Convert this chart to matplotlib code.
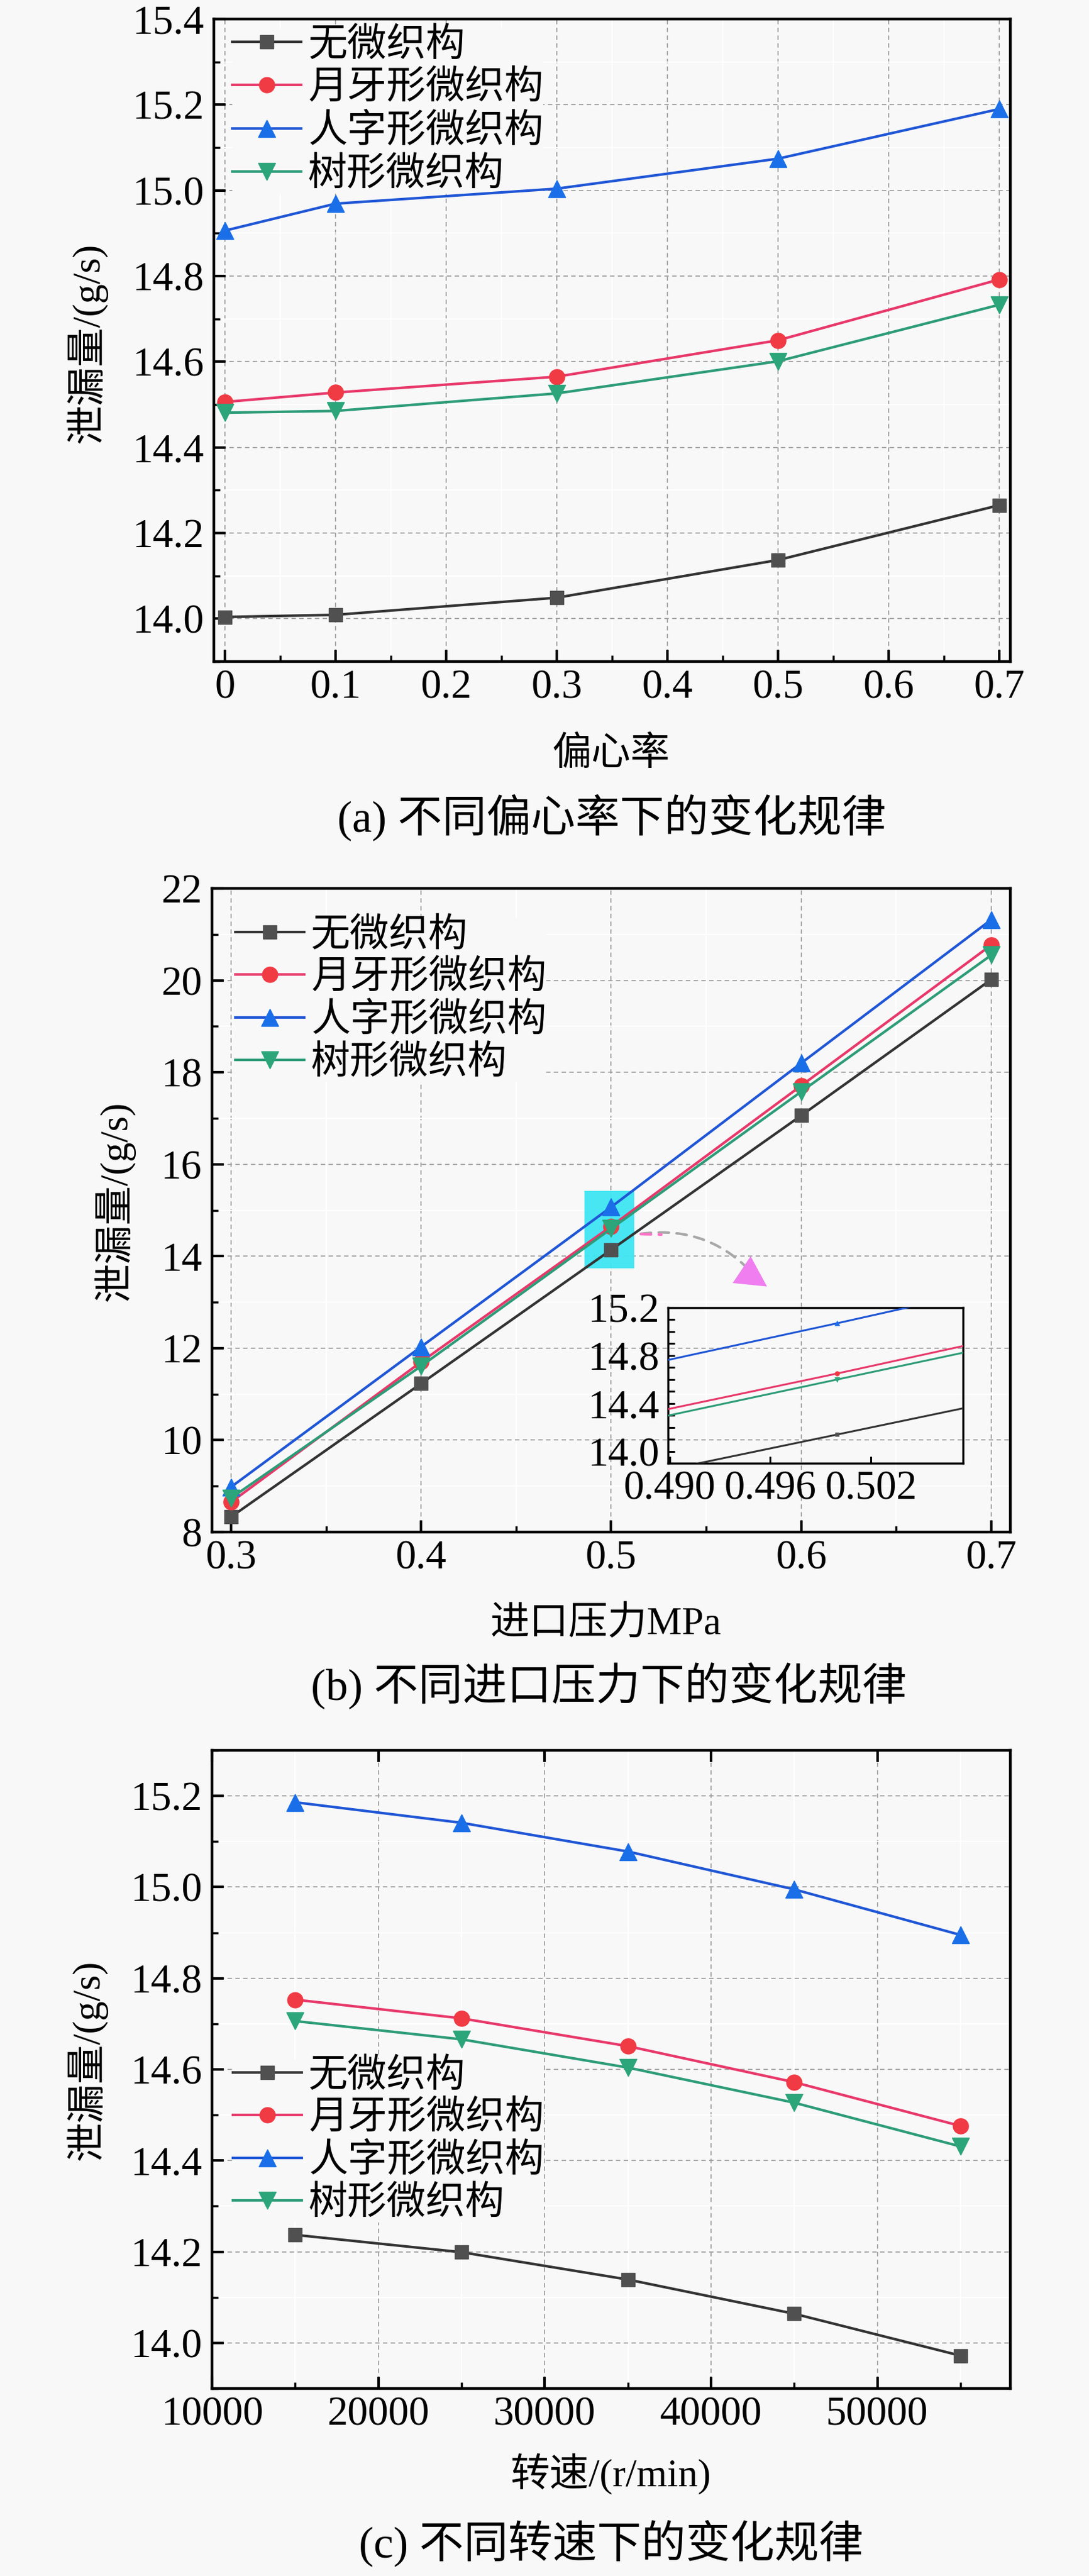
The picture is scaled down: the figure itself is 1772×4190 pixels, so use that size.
import matplotlib
matplotlib.use('Agg')
import matplotlib.pyplot as plt
from matplotlib.patches import Rectangle, FancyArrowPatch
from matplotlib.ticker import MultipleLocator, FixedLocator, FormatStrFormatter, FuncFormatter

plt.rcParams['font.family'] = 'serif'
plt.rcParams['font.serif'] = ['Liberation Serif', 'DejaVu Serif']
CJK = ['Liberation Serif', 'Noto Sans CJK SC']

# ---------------- data ----------------
series_names = ['无微织构', '月牙形微织构', '人字形微织构', '树形微织构']

ecc = [0, 0.1, 0.3, 0.5, 0.7]
ecc_none = [14.004, 14.009, 14.049, 14.137, 14.265]
ecc_crescent = [14.506, 14.528, 14.565, 14.650, 14.792]
ecc_chevron = [14.906, 14.969, 15.004, 15.074, 15.190]
ecc_tree = [14.481, 14.485, 14.526, 14.601, 14.733]

pressure = [0.3, 0.4, 0.5, 0.6, 0.7]
p_none = [8.33, 11.23, 14.14, 17.06, 20.02]
p_crescent = [8.65, 11.70, 14.65, 17.71, 20.77]
p_chevron = [8.98, 12.03, 15.07, 18.20, 21.32]
p_tree = [8.74, 11.61, 14.60, 17.58, 20.55]

speed = [15000, 25000, 35000, 45000, 55000]
s_none = [14.237, 14.199, 14.139, 14.064, 13.972]
s_crescent = [14.753, 14.712, 14.651, 14.572, 14.476]
s_chevron = [15.186, 15.141, 15.078, 14.995, 14.895]
s_tree = [14.706, 14.666, 14.604, 14.527, 14.431]

zoom_x = [0.486, 0.512]
zoom_y = [13.74, 15.42]

captions = ['(a) 不同偏心率下的变化规律', '(b) 不同进口压力下的变化规律', '(c) 不同转速下的变化规律']
xlabels = ['偏心率', '进口压力MPa', '转速/(r/min)']
ylabel = '泄漏量/(g/s)'

# ---------------- style ----------------
W, H = 1772, 4190
DPI = 100
BG = '#f8f8f8'
line_colors = ['#333333', '#e8386a', '#1f56d6', '#2d9c78']
face_colors = ['#505050', '#f03a44', '#1a6fe8', '#2ca57a']
markers = ['s', 'o', '^', 'v']
msizes = [16, 18, 20, 20]
TICK_FS = 48
LEG_FS = 46
LAB_FS = 46
CAP_FS = 52

fig = plt.figure(figsize=(W / DPI, H / DPI), dpi=DPI, facecolor=BG)


def rect(l, t, r, b):
    return [l / W, 1 - b / H, (r - l) / W, (b - t) / H]


def style_axes(ax):
    ax.set_facecolor(BG)
    for s in ax.spines.values():
        s.set_linewidth(3.2)
        s.set_color('black')
    ax.tick_params(which='major', direction='in', length=14, width=3, labelsize=TICK_FS, pad=9)
    ax.tick_params(which='minor', direction='in', length=7, width=2.5)
    ax.tick_params(axis='y', which='major', pad=12)
    ax.tick_params(top=False, right=False, which='both')
    ax.grid(True, which='major', linestyle=(0, (4, 3)), color='#a0a0a0', linewidth=1.3)
    ax.grid(True, which='minor', linestyle='-', color='white', linewidth=1.5)
    ax.set_axisbelow(True)


def plot_series(ax, x, ys, ms_scale=1.0, lw=3.0, mew=1.0):
    for y, lc, fc, m, ms, name in zip(ys, line_colors, face_colors, markers, msizes, series_names):
        ax.plot(x, y, color=lc, linewidth=lw, marker=m, markersize=ms * ms_scale,
                markerfacecolor=fc, markeredgecolor=fc, markeredgewidth=mew, label=name, zorder=3)


def make_legend(ax, anchor, ls=-0.3):
    leg = ax.legend(handles=ax.get_lines()[:4], loc='upper left', bbox_to_anchor=anchor,
                    prop={'family': CJK, 'size': LEG_FS}, frameon=True,
                    facecolor=BG, edgecolor='none', framealpha=1.0, fancybox=False,
                    handlelength=1.75, handletextpad=0.17, labelspacing=ls,
                    borderpad=0.0, borderaxespad=0.0, numpoints=1)
    leg.set_zorder(2.5)
    return leg


# ---------- (a) ----------
axa = fig.add_axes(rect(348, 31, 1644, 1076))
style_axes(axa)
plot_series(axa, ecc, [ecc_none, ecc_crescent, ecc_chevron, ecc_tree])
axa.set_xlim(-0.01, 0.71)
axa.set_ylim(13.9, 15.4)
axa.xaxis.set_major_locator(FixedLocator([0, 0.1, 0.2, 0.3, 0.4, 0.5, 0.6, 0.7]))
axa.xaxis.set_minor_locator(FixedLocator([0.05, 0.15, 0.25, 0.35, 0.45, 0.55, 0.65]))
axa.xaxis.set_major_formatter(FuncFormatter(lambda v, p: '0' if abs(v) < 1e-9 else f'{v:.1f}'))
axa.yaxis.set_major_locator(MultipleLocator(0.2))
axa.yaxis.set_minor_locator(MultipleLocator(0.1))
axa.yaxis.set_major_formatter(FormatStrFormatter('%.1f'))
lega = make_legend(axa, (0.02, 1.0))

# ---------- (b) ----------
axb = fig.add_axes(rect(345, 1445, 1644, 2492))
style_axes(axb)
axb.add_patch(Rectangle((zoom_x[0], zoom_y[0]), zoom_x[1] - zoom_x[0], zoom_y[1] - zoom_y[0],
                        facecolor='#3ee6f2', edgecolor='none', alpha=0.95, zorder=2))
plot_series(axb, pressure, [p_none, p_crescent, p_chevron, p_tree])
axb.set_xlim(0.29, 0.71)
axb.set_ylim(8, 22)
axb.xaxis.set_major_locator(FixedLocator([0.3, 0.4, 0.5, 0.6, 0.7]))
axb.xaxis.set_minor_locator(FixedLocator([0.35, 0.45, 0.55, 0.65]))
axb.xaxis.set_major_formatter(FormatStrFormatter('%.1f'))
axb.yaxis.set_major_locator(MultipleLocator(2))
axb.yaxis.set_minor_locator(MultipleLocator(1))
axb.yaxis.set_major_formatter(FormatStrFormatter('%d'))
legb = make_legend(axb, (0.03, 0.96))

# arrow from highlight to inset
curve = FancyArrowPatch((0.535, 0.463), (0.684, 0.392), transform=axb.transAxes,
                        connectionstyle='arc3,rad=-0.28', arrowstyle='-',
                        color='#a8a8a8', linewidth=3.0, linestyle=(0, (4, 3)), zorder=5)
axb.add_patch(curve)
curve_start = FancyArrowPatch((0.535, 0.463), (0.565, 0.462), transform=axb.transAxes,
                              arrowstyle='-', color='#ff70c8', linewidth=3.0,
                              linestyle=(0, (4, 3)), zorder=5)
axb.add_patch(curve_start)
head = FancyArrowPatch((0.668, 0.404), (0.697, 0.380), transform=axb.transAxes,
                       arrowstyle='-|>,head_length=0.85,head_width=0.45', mutation_scale=42,
                       color='#f07ef0', linewidth=0, zorder=5)
axb.add_patch(head)

# inset
axi = fig.add_axes(rect(1087, 2127, 1567, 2380))
axi.set_facecolor('none')
for s in axi.spines.values():
    s.set_linewidth(2.5)
plot_series(axi, pressure, [p_none, p_crescent, p_chevron, p_tree], ms_scale=0.3, lw=2.2, mew=0.5)
axi.set_xlim(0.4899, 0.5075)
axi.set_ylim(13.9, 15.2)
axi.xaxis.set_major_locator(FixedLocator([0.490, 0.496, 0.502]))
axi.xaxis.set_major_formatter(FormatStrFormatter('%.3f'))
axi.yaxis.set_major_locator(FixedLocator([14.0, 14.4, 14.8, 15.2]))
axi.yaxis.set_minor_locator(MultipleLocator(0.1))
axi.yaxis.set_major_formatter(FormatStrFormatter('%.1f'))
axi.tick_params(which='major', direction='in', length=8, width=2.2, labelsize=TICK_FS, pad=8)
axi.tick_params(which='minor', direction='in', length=8, width=2.2)
axi.tick_params(axis='y', which='major', pad=10)

# ---------- (c) ----------
axc = fig.add_axes(rect(345, 2847, 1644, 3885))
style_axes(axc)
plot_series(axc, speed, [s_none, s_crescent, s_chevron, s_tree])
axc.set_xlim(10000, 58000)
axc.set_ylim(13.9, 15.3)
axc.xaxis.set_major_locator(MultipleLocator(10000))
axc.xaxis.set_minor_locator(MultipleLocator(5000))
axc.xaxis.set_major_formatter(FormatStrFormatter('%d'))
axc.yaxis.set_major_locator(FixedLocator([14.0, 14.2, 14.4, 14.6, 14.8, 15.0, 15.2]))
axc.yaxis.set_minor_locator(MultipleLocator(0.1))
axc.yaxis.set_major_formatter(FormatStrFormatter('%.1f'))
axc.tick_params(axis='x', which='major', top=True)
legc = make_legend(axc, (0.03, 0.55))

# ---------- labels ----------
def ftext(x, y, s, **kw):
    fig.text(x / W, 1 - y / H, s, ha='center', va='center', family=CJK, **kw)

ftext(141, 558, ylabel, rotation=90, fontsize=LAB_FS)
ftext(186, 1954, ylabel, rotation=90, fontsize=LAB_FS)
ftext(141, 3351, ylabel, rotation=90, fontsize=LAB_FS)
ftext(994, 1228, xlabels[0], fontsize=LAB_FS)
ftext(986, 2643, xlabels[1], fontsize=LAB_FS)
ftext(994, 4025, xlabels[2], fontsize=LAB_FS)
ftext(995, 1330, captions[0], fontsize=CAP_FS)
ftext(991, 2742, captions[1], fontsize=CAP_FS)
ftext(994, 4137, captions[2], fontsize=CAP_FS)

# ---------- legend placement (first row center, row spacing, text left) ----------
targets = [[lega, axa, 75, 501, 70], [legb, axb, 1523, 506, 69], [legc, axc, 3378, 502, 69]]
for _ in range(3):
    fig.canvas.draw()
    r = fig.canvas.get_renderer()
    for t in targets:
        leg, ax, ty, tx, tsp = t
        texts = leg.get_texts()
        b0 = texts[0].get_window_extent(r)
        b1 = texts[1].get_window_extent(r)
        cy0 = H - (b0.y0 + b0.y1) / 2
        cy1 = H - (b1.y0 + b1.y1) / 2
        ls = leg.labelspacing + (tsp - (cy1 - cy0)) / (LEG_FS * DPI / 72)
        ax_bb = ax.get_window_extent(r)
        anc = leg.get_bbox_to_anchor().transformed(ax.transAxes.inverted())
        dx = (tx - b0.x0) / ax_bb.width
        dy = (cy0 - ty) / ax_bb.height
        t[0] = make_legend(ax, (anc.x0 + dx, anc.y0 + dy), ls)

fig.savefig('out.png', dpi=DPI, facecolor=BG)
